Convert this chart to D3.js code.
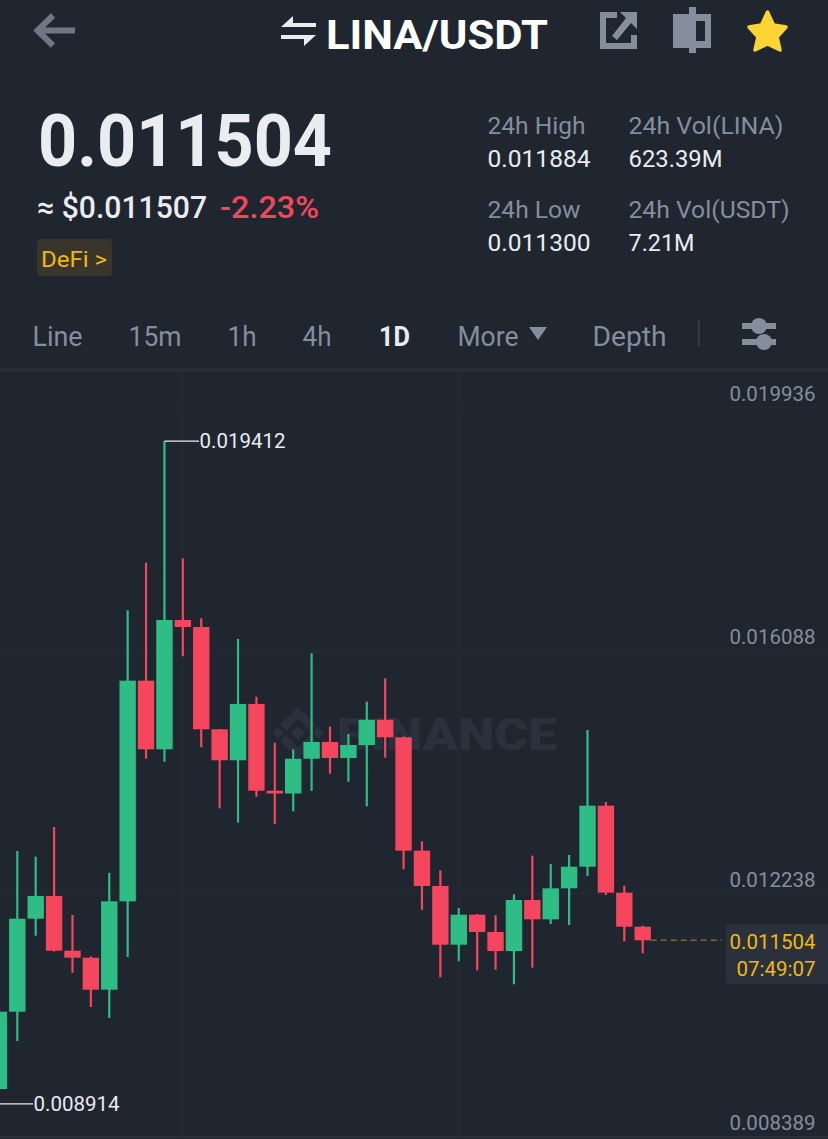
<!DOCTYPE html>
<html><head><meta charset="utf-8">
<style>html,body{margin:0;padding:0;background:#1f2630;overflow:hidden}svg{display:block}text{font-family:Roboto,sans-serif}</style>
<script src="https://cdn.jsdelivr.net/npm/d3@7/dist/d3.min.js"></script></head><body>
<script>
// ---------- data ----------
const opens  = [0.009149,0.010374,0.011847,0.012206,0.011340,0.011229,0.010722,0.012122,0.015617,0.014530,0.016578,0.016467,0.014847,0.014356,0.015248,0.013874,0.013830,0.014381,0.014646,0.014392,0.014598,0.014999,0.014720,0.012924,0.012365,0.011435,0.011910,0.011636,0.011335,0.012143,0.011837,0.012328,0.012670,0.013637,0.012259,0.011720];
const highs  = [0.010385,0.012919,0.012829,0.013299,0.011905,0.011248,0.012575,0.016732,0.017486,0.019412,0.017555,0.016605,0.014852,0.016277,0.015363,0.014635,0.014530,0.016051,0.014888,0.014772,0.015284,0.015655,0.014733,0.013073,0.012613,0.012016,0.011921,0.011901,0.012233,0.012845,0.012713,0.012856,0.014836,0.013695,0.012369,0.011736];
const lows   = [0.008914,0.009910,0.011577,0.011327,0.010991,0.010448,0.010274,0.011240,0.014381,0.014334,0.016003,0.014562,0.013595,0.013367,0.013779,0.013347,0.013548,0.013870,0.014144,0.014017,0.013627,0.014397,0.012629,0.011989,0.010919,0.011172,0.011029,0.011039,0.010808,0.011071,0.011763,0.011747,0.012523,0.012222,0.011489,0.011300];
const closes = [0.010374,0.011847,0.012206,0.011340,0.011229,0.010722,0.012122,0.015617,0.014530,0.016578,0.016467,0.014847,0.014356,0.015248,0.013874,0.013830,0.014381,0.014646,0.014392,0.014598,0.014999,0.014720,0.012924,0.012365,0.011435,0.011910,0.011636,0.011335,0.012143,0.011837,0.012328,0.012670,0.013637,0.012259,0.011720,0.011504];
const priceTicks = [0.019936,0.016088,0.012238,0.008389];
const lastPrice = 0.011504, maxPrice = 0.019412, minPrice = 0.008914;
const countdown = "07:49:07";
const tabs = ["Line","15m","1h","4h","1D","More","Depth"];
const pair = "LINA/USDT", usdPrice = "≈ $0.011507", change = "-2.23%", tag = "DeFi >";
const statNames = ["24h High","24h Vol(LINA)","24h Low","24h Vol(USDT)"];
const statValues = ["0.011884","623.39M","0.011300","7.21M"];

// ---------- layout ----------
const W = 828, H = 1139;
const BG = "#1f2630", UP = "#2ebd85", DOWN = "#f6465d", GREY = "#848e9c", WHITE = "#eaecef", GOLD = "#f0b90b", GRID = "#242b35";
const svg = d3.select("body").append("svg").attr("width", W).attr("height", H);
svg.append("rect").attr("width", W).attr("height", H).attr("fill", BG);

function label(t, x, y, w, size, color, weight) {
  const e = svg.append("text").attr("x", x).attr("y", y).attr("font-size", size).attr("fill", color).attr("font-weight", weight || 400).text(t);
  if (w) e.attr("textLength", w).attr("lengthAdjust", "spacingAndGlyphs");
  return e;
}

// header
svg.append("path").attr("d", "M75 30.5H39M53 15.5L37.5 30.5L53 45.5").attr("fill", "none").attr("stroke", "#6f7787").attr("stroke-width", 6);
svg.append("path").attr("d", "M281 27L293 16V23H316V27ZM316 35L304 46V39H281V35Z").attr("fill", WHITE);
label(pair, 326, 49, 222, 40, "#fff", 700);
svg.append("path").attr("d", "M600 12H617V18H606V43H631V35H637V49H600ZM620 12H637V29L631 23L617 40L612 36L626 18Z").attr("fill", GREY);
svg.append("path").attr("fill-rule", "evenodd").attr("d", "M689 7H696V14H711V48H696V53H689V48H673V14H689ZM696 21V41H705V21Z").attr("fill", GREY);
svg.append("path").attr("d", "M767.5 12L773.5 25L786 27L777 37L780 50L767.5 44L755 50L758 37L749 27L761.5 25Z").attr("fill", "#fcd535").attr("stroke", "#fcd535").attr("stroke-width", 3.5).attr("stroke-linejoin", "round");

label(d3.format(".6f")(lastPrice), 38, 166, 294, 72, WHITE, 700);
label(usdPrice, 37, 218, 170, 31, WHITE, 500);
label(change, 220, 218, 99, 31, DOWN, 500);
svg.append("rect").attr("x", 37).attr("y", 239).attr("width", 75).attr("height", 37).attr("rx", 4).attr("fill", "#3a352a");
label(tag, 41, 267, 66, 22, GOLD);

const statX = [487.5, 628.5, 487.5, 628.5], nameY = [134, 134, 218, 218], valY = [166.5, 166.5, 250.5, 250.5];
const nameW = [98, 155, 93, 161], valW = [103, 94, 103, 66];
statNames.forEach((t, i) => label(t, statX[i], nameY[i], nameW[i], 24, GREY));
statValues.forEach((t, i) => label(t, statX[i], valY[i], valW[i], 24, WHITE));

// tabs
const tabX = [32.5, 128.5, 227.5, 302.5, 379, 457.5, 592.5], tabW = [50, 53, 29, 29, 31, 61, 74];
tabs.forEach((t, i) => label(t, tabX[i], 345.5, tabW[i], 27, t === "1D" ? WHITE : GREY, t === "1D" ? 700 : 400));
svg.append("path").attr("d", "M529 327H547L538 340Z").attr("fill", GREY);
svg.append("rect").attr("x", 698).attr("y", 320).attr("width", 1.5).attr("height", 26).attr("fill", "#3a414d");
svg.append("path").attr("d", "M742 323H776V329H742ZM742 339H776V345H742Z").attr("fill", GREY);
svg.append("circle").attr("cx", 759).attr("cy", 326).attr("r", 8).attr("fill", GREY);
svg.append("circle").attr("cx", 764).attr("cy", 342).attr("r", 8).attr("fill", GREY);
svg.append("rect").attr("x", 0).attr("y", 368).attr("width", W).attr("height", 4).attr("fill", "#272e38");

// chart scales
const y = d3.scaleLinear().domain([priceTicks[0], priceTicks[3]]).range([408, 1137]);
const x = d3.scaleLinear().domain([0, 35]).range([-1.1, 642.7]);
const px = d3.format(".6f");

// grid
const gridLayer = svg.append("g");
gridLayer.selectAll("line.h").data(priceTicks).join("line").attr("class", "h").attr("x1", 0).attr("x2", W).attr("y1", d => y(d)).attr("y2", d => y(d)).attr("stroke", d => d === priceTicks[3] ? "#2d333f" : GRID).attr("stroke-width", 1.5);
gridLayer.selectAll("line.v").data([10, 25]).join("line").attr("class", "v").attr("x1", d => x(d)).attr("x2", d => x(d)).attr("y1", 372).attr("y2", 1137).attr("stroke", GRID).attr("stroke-width", 1.5);

// watermark (behind the candles)
const wm = svg.append("g").attr("fill", "#2b313c");
wm.append("text").attr("x", 337).attr("y", 750).attr("font-size", 44).attr("font-weight", 900).attr("textLength", 220).attr("lengthAdjust", "spacingAndGlyphs").text("BINANCE");
[
  [[298,707],[316,725],[310,731],[298,719],[286,731],[280,725]],
  [[298,759],[316,741],[310,735],[298,747],[286,735],[280,741]],
  [[298,726],[305,733],[298,740],[291,733]],
  [[278,727],[284,733],[278,739],[272,733]],
  [[318,727],[324,733],[318,739],[312,733]]
].forEach(p => wm.append("polygon").attr("points", p.join(" ")));

// candles
const chart = svg.append("g");
const idx = d3.range(opens.length);
const color = i => closes[i] >= opens[i] ? UP : DOWN;
const candle = chart.selectAll("g.c").data(idx).join("g").attr("class", "c");
candle.append("line").attr("x1", i => x(i)).attr("x2", i => x(i)).attr("y1", i => y(highs[i])).attr("y2", i => y(lows[i])).attr("stroke", color).attr("stroke-width", 2.2);
candle.append("rect").attr("x", i => x(i) - 8.2).attr("width", 16.4)
  .attr("y", i => y(Math.max(opens[i], closes[i]))).attr("height", i => Math.abs(y(opens[i]) - y(closes[i]))).attr("fill", color);

// axis labels
const axis = d3.axisRight(y).tickValues(priceTicks).tickFormat(px).tickSize(0).tickPadding(0);
const ax = svg.append("g").attr("transform", "translate(815.5,-14)").call(axis);
ax.select(".domain").remove();
ax.selectAll("text").attr("text-anchor", "end").attr("fill", GREY).attr("font-size", 20.5).attr("font-family", "Roboto,sans-serif").attr("x", 0);

// max / min
svg.append("line").attr("x1", x(9)).attr("x2", 199).attr("y1", y(maxPrice)).attr("y2", y(maxPrice)).attr("stroke", WHITE).attr("stroke-width", 1.3);
label(px(maxPrice), 199.5, y(maxPrice) + 7, 86, 20.5, WHITE);
svg.append("line").attr("x1", 0).attr("x2", 33).attr("y1", y(minPrice)).attr("y2", y(minPrice)).attr("stroke", WHITE).attr("stroke-width", 1.3);
label(px(minPrice), 33.5, y(minPrice) + 7, 86, 20.5, WHITE);

// last price
svg.append("line").attr("x1", x(35) + 8).attr("x2", 722).attr("y1", y(lastPrice)).attr("y2", y(lastPrice)).attr("stroke", "#7d6a2c").attr("stroke-width", 1.5).attr("stroke-dasharray", "6 4");
svg.append("rect").attr("x", 726).attr("y", 924).attr("width", 110).attr("height", 60).attr("rx", 4).attr("fill", "#2b313c");
label(px(lastPrice), 729.5, 949, 86, 20.5, GOLD);
label(countdown, 736.5, 976, 79, 20.5, GOLD);
</script></body></html>
